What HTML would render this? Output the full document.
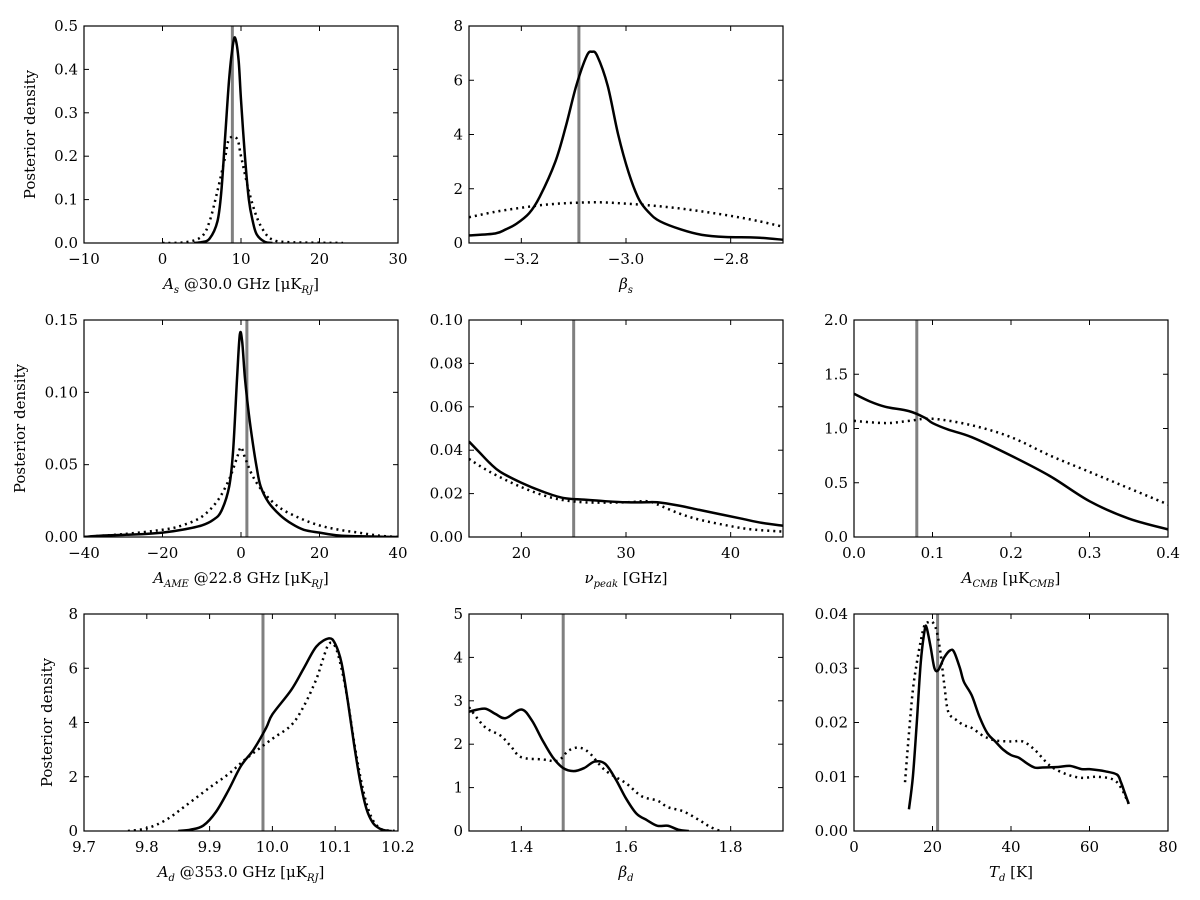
<!DOCTYPE html>
<html><head><meta charset="utf-8"><style>
body{margin:0;background:#fff}
svg{display:block;font-family:"DejaVu Serif","Liberation Serif",serif}
</style></head><body>
<svg id="fig" width="1200" height="900" viewBox="0 0 1200 900"></svg>
<script>
// Panel data (x, y pairs)
const p1Solid=[[4,0],[5,0.002],[6,0.01],[7,0.05],[7.5,0.12],[8,0.25],[8.5,0.38],[9,0.46],[9.3,0.47],[9.7,0.42],[10,0.33],[10.5,0.2],[11,0.1],[11.5,0.05],[12,0.02],[13,0.003],[14,0]];
const p1Dot=[[0,0],[3,0.002],[5,0.015],[6,0.05],[7,0.12],[8,0.2],[8.5,0.24],[9.5,0.24],[10,0.2],[11,0.12],[12,0.06],[13,0.025],[14,0.008],[16,0.002],[23,0]];
const p2Solid=[[-3.3,0.28],[-3.25,0.35],[-3.23,0.5],[-3.21,0.7],[-3.185,1.1],[-3.165,1.7],[-3.135,3],[-3.115,4.3],[-3.095,5.8],[-3.075,6.9],[-3.065,7.05],[-3.055,6.9],[-3.035,5.8],[-3.015,4.0],[-2.995,2.6],[-2.975,1.6],[-2.955,1.1],[-2.935,0.8],[-2.895,0.5],[-2.855,0.3],[-2.81,0.22],[-2.75,0.2],[-2.7,0.12]];
const p2Dot=[[-3.3,0.95],[-3.25,1.15],[-3.2,1.3],[-3.15,1.42],[-3.1,1.48],[-3.05,1.5],[-3.0,1.45],[-2.95,1.38],[-2.9,1.28],[-2.85,1.15],[-2.8,1.0],[-2.75,0.82],[-2.7,0.6]];
const p4Solid=[[-40,0],[-35,0.001],[-25,0.002],[-20,0.003],[-15,0.005],[-10,0.008],[-7,0.012],[-5,0.018],[-3,0.035],[-2,0.06],[-1,0.11],[-0.3,0.14],[0.3,0.135],[1,0.11],[2,0.085],[3,0.065],[4,0.048],[5,0.035],[7,0.024],[10,0.015],[13,0.009],[16,0.005],[20,0.003],[25,0.001],[30,0.0005],[40,0]];
const p4Dot=[[-40,0],[-30,0.002],[-20,0.005],[-15,0.008],[-10,0.014],[-6,0.025],[-3,0.04],[-1,0.055],[0,0.062],[1,0.055],[3,0.042],[6,0.03],[10,0.02],[15,0.013],[20,0.008],[25,0.005],[30,0.003],[35,0.001],[40,0]];
const p5Solid=[[15,0.044],[16,0.039],[17,0.034],[18,0.03],[20,0.025],[22,0.021],[24,0.018],[26,0.0172],[28,0.0165],[30,0.016],[32,0.016],[33,0.016],[35,0.0145],[37,0.0125],[39,0.0105],[41,0.0085],[43,0.0065],[45,0.0052]];
const p5Dot=[[15,0.036],[17,0.03],[20,0.023],[23,0.018],[26,0.016],[30,0.016],[32,0.0165],[33,0.015],[35,0.011],[37,0.008],[40,0.005],[42,0.0035],[45,0.0025]];
const p6Solid=[[0,1.32],[0.02,1.25],[0.04,1.2],[0.07,1.16],[0.09,1.1],[0.1,1.05],[0.12,0.99],[0.15,0.92],[0.2,0.75],[0.25,0.56],[0.3,0.33],[0.35,0.17],[0.4,0.07]];
const p6Dot=[[0,1.07],[0.04,1.05],[0.07,1.07],[0.1,1.09],[0.15,1.03],[0.2,0.92],[0.25,0.75],[0.3,0.6],[0.35,0.45],[0.4,0.3]];
const p7Solid=[[9.85,0],[9.87,0.05],[9.89,0.2],[9.91,0.7],[9.93,1.5],[9.95,2.4],[9.97,3.0],[9.99,3.8],[10.0,4.3],[10.03,5.2],[10.05,6.0],[10.07,6.8],[10.09,7.1],[10.1,6.9],[10.11,6.2],[10.12,4.8],[10.13,3.2],[10.14,1.8],[10.15,0.8],[10.16,0.3],[10.17,0.1],[10.18,0.02],[10.19,0]];
const p7Dot=[[9.77,0],[9.8,0.1],[9.83,0.4],[9.86,0.9],[9.9,1.6],[9.93,2.1],[9.96,2.7],[10.0,3.4],[10.03,3.9],[10.05,4.6],[10.07,5.6],[10.08,6.3],[10.09,6.9],[10.1,6.8],[10.11,6.0],[10.12,4.8],[10.13,3.3],[10.14,2.0],[10.15,1.0],[10.16,0.4],[10.17,0.12],[10.18,0.03],[10.2,0]];
const p8Solid=[[1.3,2.75],[1.33,2.82],[1.35,2.7],[1.37,2.6],[1.4,2.8],[1.42,2.55],[1.44,2.1],[1.46,1.7],[1.48,1.45],[1.5,1.38],[1.52,1.45],[1.54,1.6],[1.56,1.55],[1.58,1.2],[1.6,0.75],[1.62,0.4],[1.64,0.25],[1.66,0.12],[1.68,0.12],[1.7,0.03],[1.72,0]];
const p8Dot=[[1.3,2.85],[1.33,2.4],[1.36,2.2],[1.38,1.95],[1.4,1.7],[1.44,1.65],[1.47,1.62],[1.49,1.85],[1.51,1.92],[1.53,1.8],[1.56,1.4],[1.6,1.1],[1.63,0.8],[1.66,0.7],[1.68,0.55],[1.71,0.45],[1.74,0.25],[1.76,0.1],[1.78,0]];
const p9Solid=[[14,0.004],[15,0.01],[16,0.02],[17,0.031],[18,0.037],[18.5,0.0375],[19.5,0.034],[20.5,0.03],[21.5,0.0297],[23,0.032],[24.5,0.0333],[25.5,0.033],[27,0.03],[28,0.0275],[30,0.025],[32,0.021],[34,0.018],[36,0.0165],[38,0.015],[40,0.014],[42,0.0135],[44,0.0125],[46,0.0117],[48,0.0117],[52,0.0118],[55,0.012],[58,0.0114],[60,0.0114],[64,0.011],[67,0.0104],[68,0.009],[69,0.007],[70,0.005]];
const p9Dot=[[13,0.009],[14,0.018],[15,0.026],[16,0.031],[17,0.035],[18,0.038],[19,0.0385],[20,0.0385],[21,0.037],[22,0.033],[23,0.027],[24,0.022],[26,0.0205],[28,0.0195],[30,0.019],[33,0.0175],[36,0.0167],[40,0.0165],[43,0.0165],[46,0.015],[50,0.012],[54,0.0105],[58,0.0098],[62,0.01],[66,0.0095],[68,0.008],[70,0.005]];
const truths=[8.9,-3.09,1.5,25,0.08,9.985,1.48,21.3];
const xTicks=[[-10,0,10,20,30],[-3.2,-3.0,-2.8],[-40,-20,0,20,40],[20,30,40],[0,0.1,0.2,0.3,0.4],[9.7,9.8,9.9,10.0,10.1,10.2],[1.4,1.6,1.8],[0,20,40,60,80]];
const yTicks=[[0,0.1,0.2,0.3,0.4,0.5],[0,2,4,6,8],[0,0.05,0.1,0.15],[0,0.02,0.04,0.06,0.08,0.1],[0,0.5,1,1.5,2],[0,2,4,6,8],[0,1,2,3,4,5],[0,0.01,0.02,0.03,0.04]];

const NS="http://www.w3.org/2000/svg";
const svg=document.getElementById('fig');
function el(t,a,p){const e=document.createElementNS(NS,t);for(const k in a)e.setAttribute(k,a[k]);(p||svg).appendChild(e);return e;}
function path(pts){
  let d='M'+pts[0][0].toFixed(2)+','+pts[0][1].toFixed(2);
  for(let i=0;i<pts.length-1;i++){
    const p0=pts[Math.max(i-1,0)],p1=pts[i],p2=pts[i+1],p3=pts[Math.min(i+2,pts.length-1)];
    const c1=[p1[0]+(p2[0]-p0[0])/6,p1[1]+(p2[1]-p0[1])/6],c2=[p2[0]-(p3[0]-p1[0])/6,p2[1]-(p3[1]-p1[1])/6];
    d+='C'+c1.map(v=>v.toFixed(2))+' '+c2.map(v=>v.toFixed(2))+' '+p2.map(v=>v.toFixed(2));
  }
  return d;
}
const panels=[
 {x:84,y:26,xr:[-10,30],yr:[0,0.5],yd:1,xd:0,s:p1Solid,d:p1Dot,lab:'<tspan font-style="italic">A</tspan><tspan font-style="italic" font-size="10" dy="4">s</tspan><tspan dy="-4"> @30.0 GHz [μK</tspan><tspan font-style="italic" font-size="10" dy="4">RJ</tspan><tspan dy="-4">]</tspan>',yl:35},
 {x:469,y:26,xr:[-3.3,-2.7],yr:[0,8],yd:0,xd:1,s:p2Solid,d:p2Dot,lab:'<tspan font-style="italic">β</tspan><tspan font-style="italic" font-size="10" dy="4">s</tspan>'},
 {x:84,y:320,xr:[-40,40],yr:[0,0.15],yd:2,xd:0,s:p4Solid,d:p4Dot,lab:'<tspan font-style="italic">A</tspan><tspan font-style="italic" font-size="10" dy="4">AME</tspan><tspan dy="-4"> @22.8 GHz [μK</tspan><tspan font-style="italic" font-size="10" dy="4">RJ</tspan><tspan dy="-4">]</tspan>',yl:25},
 {x:469,y:320,xr:[15,45],yr:[0,0.1],yd:2,xd:0,s:p5Solid,d:p5Dot,lab:'<tspan font-style="italic">ν</tspan><tspan font-style="italic" font-size="10" dy="4">peak</tspan><tspan dy="-4"> [GHz]</tspan>'},
 {x:854,y:320,xr:[0,0.4],yr:[0,2],yd:1,xd:1,s:p6Solid,d:p6Dot,lab:'<tspan font-style="italic">A</tspan><tspan font-style="italic" font-size="10" dy="4">CMB</tspan><tspan dy="-4"> [μK</tspan><tspan font-style="italic" font-size="10" dy="4">CMB</tspan><tspan dy="-4">]</tspan>'},
 {x:84,y:614,xr:[9.7,10.2],yr:[0,8],yd:0,xd:1,s:p7Solid,d:p7Dot,lab:'<tspan font-style="italic">A</tspan><tspan font-style="italic" font-size="10" dy="4">d</tspan><tspan dy="-4"> @353.0 GHz [μK</tspan><tspan font-style="italic" font-size="10" dy="4">RJ</tspan><tspan dy="-4">]</tspan>',yl:52},
 {x:469,y:614,xr:[1.3,1.9],yr:[0,5],yd:0,xd:1,s:p8Solid,d:p8Dot,lab:'<tspan font-style="italic">β</tspan><tspan font-style="italic" font-size="10" dy="4">d</tspan>'},
 {x:854,y:614,xr:[0,80],yr:[0,0.04],yd:2,xd:0,s:p9Solid,d:p9Dot,lab:'<tspan font-style="italic">T</tspan><tspan font-style="italic" font-size="10" dy="4">d</tspan><tspan dy="-4"> [K]</tspan>'}
];
const W=314,H=217;
function fmt(v,d){return v.toFixed(d).replace('-','−');}
panels.forEach((p,i)=>{
  const g=el('g',{});
  
  
  const sx=v=>p.x+(v-p.xr[0])/(p.xr[1]-p.xr[0])*W;
  const sy=v=>p.y+H-(v-p.yr[0])/(p.yr[1]-p.yr[0])*H;
  const cp=el('clipPath',{id:'c'+i},g);el('rect',{x:p.x,y:p.y,width:W,height:H},cp);
  const t=el('line',{x1:sx(truths[i]),x2:sx(truths[i]),y1:p.y,y2:p.y+H,stroke:'#808080','stroke-width':3,'clip-path':'url(#c'+i+')'},g);
  
  
  const dd=el('path',{d:path(p.d.map(q=>[sx(q[0]),sy(q[1])])),fill:'none',stroke:'#000','stroke-width':2.5,'stroke-dasharray':'2,4','clip-path':'url(#c'+i+')'},g);
  
  
  const ss=el('path',{d:path(p.s.map(q=>[sx(q[0]),sy(q[1])])),fill:'none',stroke:'#000','stroke-width':2.5,'stroke-linejoin':'round','clip-path':'url(#c'+i+')'},g);
  
  
  el('rect',{x:p.x,y:p.y,width:W,height:H,fill:'none',stroke:'#000','stroke-width':1.2},g);
  xTicks[i].forEach(v=>{
    const X=sx(v);
    el('line',{x1:X,x2:X,y1:p.y+H,y2:p.y+H-5,stroke:'#000'},g);
    el('line',{x1:X,x2:X,y1:p.y,y2:p.y+5,stroke:'#000'},g);
    const tx=el('text',{x:X,y:p.y+H+21,'text-anchor':'middle','font-size':15},g);
    
    
    tx.textContent=fmt(v,p.xd);
  });
  yTicks[i].forEach(v=>{
    const Y=sy(v);
    el('line',{x1:p.x,x2:p.x+5,y1:Y,y2:Y,stroke:'#000'},g);
    el('line',{x1:p.x+W,x2:p.x+W-5,y1:Y,y2:Y,stroke:'#000'},g);
    const ty=el('text',{x:p.x-6,y:Y+5,'text-anchor':'end','font-size':15},g);
    
    
    ty.textContent=fmt(v,p.yd);
  });
  const xl=el('text',{x:p.x+W/2,y:p.y+H+46,'text-anchor':'middle','font-size':15},g);
  
  
  xl.innerHTML=p.lab;
  if(p.yl){
    const yl=el('text',{x:p.yl,y:p.y+H/2,'text-anchor':'middle','font-size':15,transform:'rotate(-90 '+p.yl+' '+(p.y+H/2)+')'},g);
    
    
    yl.textContent='Posterior density';
  }
});
</script>
</body></html>
